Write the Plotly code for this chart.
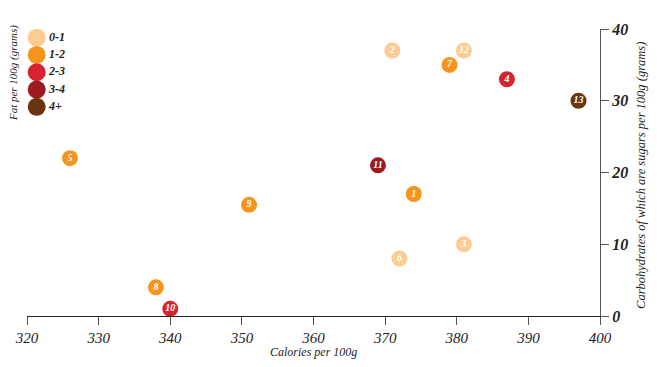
import plotly.graph_objects as go

ids = ["1", "2", "3", "4", "5", "6", "7", "8", "9", "10", "11", "12", "13"]
calories = [374, 371, 381, 387, 326, 372, 379, 338, 351, 340, 369, 381, 397]
fat = [17, 37, 10, 33, 22, 8, 35, 4, 15.5, 1, 21, 37, 30]
group = ["1-2", "0-1", "0-1", "2-3", "1-2", "0-1", "1-2", "1-2", "1-2", "2-3", "3-4", "0-1", "4+"]

groups = ["0-1", "1-2", "2-3", "3-4", "4+"]
colors = ["#FDCB94", "#F7941D", "#D7232F", "#9B1B20", "#6B3410"]

x_ticks = [320, 330, 340, 350, 360, 370, 380, 390, 400]
y_ticks = [0, 10, 20, 30, 40]

SERIF = "Liberation Serif"
INK = "#222222"

fig = go.Figure()
for g, c in zip(groups, colors):
    idx = [i for i, gg in enumerate(group) if gg == g]
    fig.add_trace(go.Scatter(
        x=[calories[i] for i in idx],
        y=[fat[i] for i in idx],
        text=[ids[i] for i in idx],
        mode="markers+text",
        name=g,
        marker=dict(size=16, color=c, line=dict(width=0)),
        textposition="middle center",
        textfont=dict(family=SERIF, size=10, color="white", style="italic", weight="bold"),
        hoverinfo="x+y+name",
        showlegend=False,
        cliponaxis=False,
    ))

# legend drawn as a small categorical scatter on its own axes
fig.add_trace(go.Scatter(
    x=[0] * len(groups), y=groups, text=groups,
    mode="markers+text",
    marker=dict(size=18, color=colors, line=dict(width=0)),
    textposition="middle right",
    textfont=dict(family=SERIF, size=12, color=INK, style="italic", weight="bold"),
    xaxis="x2", yaxis="y2", showlegend=False, hoverinfo="skip",
    cliponaxis=False,
))

fig.update_layout(
    width=641, height=351,
    margin=dict(l=19, r=49, t=21, b=43),
    plot_bgcolor="white", paper_bgcolor="white",
    font=dict(family=SERIF, color=INK),
    showlegend=False,
    xaxis=dict(
        range=[320, 400], tickvals=x_ticks, ticktext=[str(v) for v in x_ticks],
        showgrid=False, zeroline=False, automargin=False,
        showline=True, linecolor=INK, linewidth=1,
        ticks="outside", ticklen=8, tickcolor="#555555",
        tickfont=dict(family=SERIF, size=15, style="italic", color=INK),
    ),
    yaxis=dict(
        range=[0, 40], tickvals=y_ticks, ticktext=[str(v) for v in y_ticks],
        side="right", automargin=False,
        showgrid=False, zeroline=False,
        showline=True, linecolor="#555555", linewidth=1,
        ticks="outside", ticklen=8, tickcolor="#555555",
        tickfont=dict(family=SERIF, size=16, style="italic", weight="bold", color=INK),
    ),
    xaxis2=dict(domain=[0, 0.0677], range=[-0.5, 1.5], visible=False, anchor="y2"),
    yaxis2=dict(domain=[1 - 86.5 / 287, 1], type="category",
                categoryorder="array", categoryarray=groups,
                range=[4.5, -0.5], autorange=False, visible=False, anchor="x2"),
    annotations=[
        dict(
            text="Calories per 100g",
            xref="paper", yref="paper", x=0.5, y=-0.127,
            xanchor="center", yanchor="middle", showarrow=False,
            font=dict(family=SERIF, size=12, style="italic", color=INK),
        ),
        dict(
            text="Fat per 100g (grams)", textangle=-90,
            xref="paper", yref="paper", x=-0.0225, y=1.021,
            xanchor="center", yanchor="top", showarrow=False,
            font=dict(family=SERIF, size=11, style="italic", color=INK),
        ),
        dict(
            text="Carbohydrates of which are sugars per 100g (grams)", textangle=-90,
            xref="paper", yref="paper", x=1.0725, y=0.49,
            xanchor="center", yanchor="middle", showarrow=False,
            font=dict(family=SERIF, size=12.5, style="italic", color=INK),
        ),
    ],
)

fig.write_html("out.html")
